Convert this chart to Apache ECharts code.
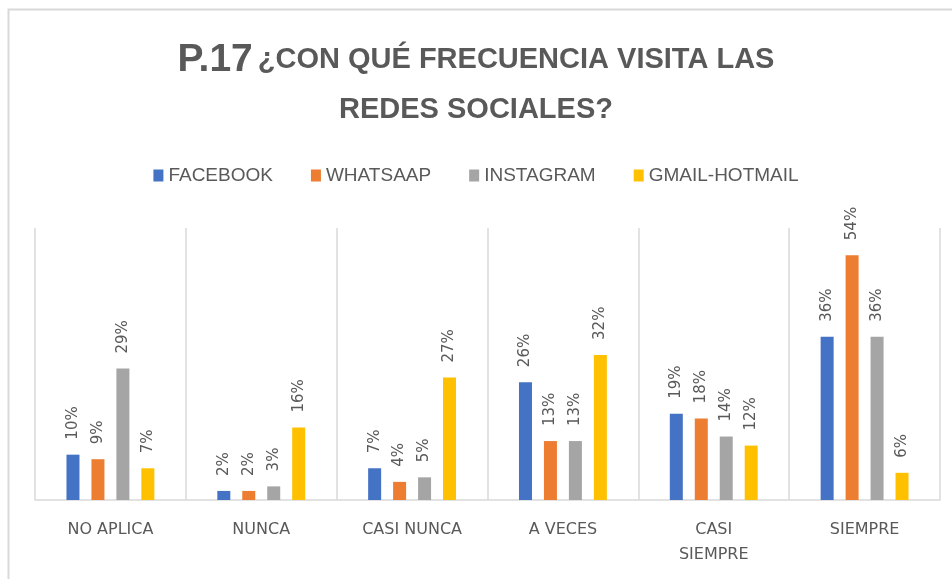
<!DOCTYPE html>
<html>
<head>
<meta charset="utf-8">
<script src="https://cdn.jsdelivr.net/npm/echarts@6/dist/echarts.min.js"></script>
<style>
  html, body { margin: 0; padding: 0; background: #fff; }
  #chart { width: 952px; height: 579px; }
</style>
</head>
<body>
<div id="chart"></div>
<script>
var categories = ['NO APLICA', 'NUNCA', 'CASI NUNCA', 'A VECES', 'CASI\nSIEMPRE', 'SIEMPRE'];
var seriesNames = ['FACEBOOK', 'WHATSAAP', 'INSTAGRAM', 'GMAIL-HOTMAIL'];
var facebook = [10, 2, 7, 26, 19, 36];
var whatsaap = [9, 2, 4, 13, 18, 54];
var instagram = [29, 3, 5, 13, 14, 36];
var gmail = [7, 16, 27, 32, 12, 6];
var colors = ['#4472c4', '#ed7d31', '#a5a5a5', '#ffc000'];

var textColor = '#595959';

function makeSeries(name, data, color) {
    return {
        name: name,
        type: 'bar',
        data: data,
        barWidth: 13,
        barGap: '92%',
        itemStyle: {color: color},
        label: {
            show: true,
            position: 'top',
            rotate: 90,
            align: 'left',
            verticalAlign: 'middle',
            distance: 15,
            formatter: '{c}%',
            color: textColor,
            fontSize: 15,
            fontFamily: 'DejaVu Sans'
        }
    };
}

var chart = echarts.init(document.getElementById('chart'));
chart.setOption({
    animation: false,
    color: colors,
    title: {
        text: '{a|P.17} {b|¿CON QUÉ FRECUENCIA VISITA LAS}\n{b|REDES SOCIALES?}',
        left: 'center',
        top: 30,
        textStyle: {
            lineHeight: 50,
            rich: {
                a: {fontSize: 39, fontWeight: 'bold', color: textColor, fontFamily: 'Liberation Sans', lineHeight: 50},
                b: {fontSize: 29, fontWeight: 'bold', color: textColor, fontFamily: 'Liberation Sans', lineHeight: 50}
            }
        }
    },
    legend: {
        data: seriesNames,
        top: 161,
        left: 'center',
        itemWidth: 10,
        itemHeight: 12,
        itemGap: 38,
        icon: 'rect',
        textStyle: {color: textColor, fontSize: 19, fontFamily: 'Liberation Sans'}
    },
    grid: {left: 35, right: 12, top: 228, bottom: 79},
    xAxis: {
        type: 'category',
        data: categories,
        axisLine: {lineStyle: {color: '#d9d9d9', width: 1.5}},
        axisTick: {show: false},
        splitLine: {show: true, lineStyle: {color: '#d9d9d9', width: 1.5}},
        axisLabel: {
            color: textColor,
            fontSize: 16,
            fontFamily: 'DejaVu Sans',
            margin: 17,
            lineHeight: 25,
            interval: 0
        }
    },
    yAxis: {
        type: 'value',
        min: 0,
        max: 60,
        show: false
    },
    graphic: [{
        type: 'rect',
        shape: {x: 8.5, y: 9.5, width: 960, height: 600},
        style: {fill: 'none', stroke: '#d9d9d9', lineWidth: 2},
        silent: true
    }],
    series: [
        makeSeries(seriesNames[0], facebook, colors[0]),
        makeSeries(seriesNames[1], whatsaap, colors[1]),
        makeSeries(seriesNames[2], instagram, colors[2]),
        makeSeries(seriesNames[3], gmail, colors[3])
    ]
});
</script>
</body>
</html>
